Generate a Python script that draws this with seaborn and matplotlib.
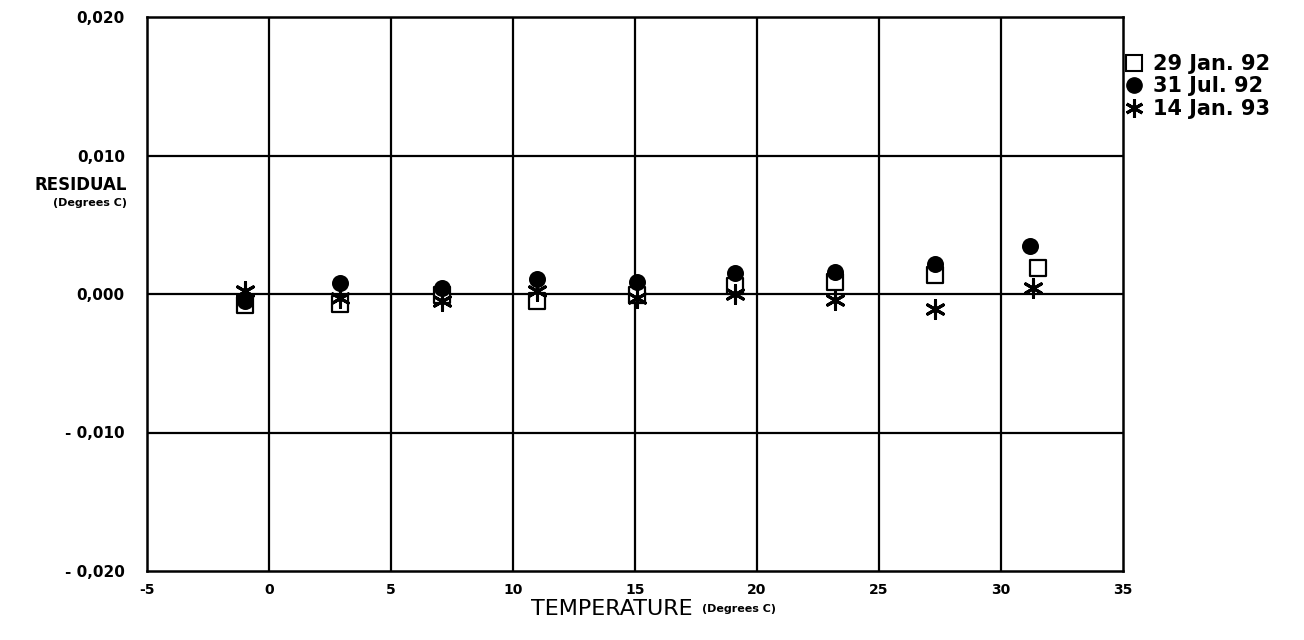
import matplotlib
matplotlib.use("Agg")
import matplotlib.pyplot as plt
import seaborn as sns
import pandas as pd
from matplotlib.lines import Line2D

# ---- data ----
temps_jan92 = [-1.0, 2.9, 7.1, 11.0, 15.1, 19.1, 23.2, 27.3, 31.5]
resid_jan92 = [-0.0008, -0.0007, -0.0001, -0.0005, -0.0001, 0.0006, 0.0009, 0.0014, 0.0019]
temps_jul92 = [-1.0, 2.9, 7.1, 11.0, 15.1, 19.1, 23.2, 27.3, 31.2]
resid_jul92 = [-0.0005, 0.0008, 0.0004, 0.0011, 0.0009, 0.0015, 0.0016, 0.0022, 0.0035]
temps_jan93 = [-1.0, 2.9, 7.1, 11.0, 15.1, 19.1, 23.2, 27.3, 31.3]
resid_jan93 = [0.0002, -0.0003, -0.0005, 0.0002, -0.0003, 0.0000, -0.0004, -0.0011, 0.0004]
series_labels = ["29 Jan. 92", "31 Jul. 92", "14 Jan. 93"]
xticks = [-5, 0, 5, 10, 15, 20, 25, 30, 35]
yticks = [-0.02, -0.01, 0.0, 0.01, 0.02]
ytick_labels = ["- 0,020", "- 0,010", "0,000", "0,010", "0,020"]

sns.set_theme(style="white")
plt.rcParams['font.family'] = ['DejaVu Sans']
plt.rcParams['text.color'] = 'black'
plt.rcParams['xtick.color'] = 'black'
plt.rcParams['ytick.color'] = 'black'
plt.rcParams['axes.labelcolor'] = 'black'

fig = plt.figure(figsize=(13.04, 6.4), dpi=100)
ax = fig.add_axes([147/1304, 1-571/640, (1123-147)/1304, (571-17)/640])

df1 = pd.DataFrame({"t": temps_jan92, "r": resid_jan92})
df2 = pd.DataFrame({"t": temps_jul92, "r": resid_jul92})
df3 = pd.DataFrame({"t": temps_jan93, "r": resid_jan93})

sns.scatterplot(data=df1, x="t", y="r", ax=ax, marker="s", s=140,
                facecolor="white", edgecolor="black", linewidth=1.6, zorder=3)
sns.scatterplot(data=df2, x="t", y="r", ax=ax, marker="o", s=150,
                color="black", edgecolor="black", linewidth=0, zorder=4)
sns.scatterplot(data=df3, x="t", y="r", ax=ax, marker=(6, 2, 0), s=170,
                color="black", linewidth=2.2, zorder=5)

ax.set_xlim(-5, 35)
ax.set_ylim(-0.02, 0.02)
ax.set_xticks(xticks)
ax.set_xticklabels([str(v) for v in xticks], fontsize=10, fontweight="bold")
ax.set_yticks(yticks)
ax.set_yticklabels(ytick_labels, fontsize=11, fontweight="bold")
ax.tick_params(axis="both", length=0, colors="black")
ax.tick_params(axis="y", pad=16)
ax.tick_params(axis="x", pad=9)

for v in [0, 5, 10, 15, 20, 25, 30]:
    ax.axvline(v, color="black", linewidth=1.6, zorder=1)
for v in [-0.01, 0.0, 0.01]:
    ax.axhline(v, color="black", linewidth=1.6, zorder=1)
for sp in ax.spines.values():
    sp.set_visible(True)
    sp.set_color("black")
    sp.set_linewidth(1.8)
ax.set_xlabel("")
ax.set_ylabel("")

# axis titles
fig.text(127/1304, 1-185/640, "RESIDUAL", ha="right", va="center",
         fontsize=12, fontweight="bold")
fig.text(127/1304, 1-203/640, "(Degrees C)", ha="right", va="center",
         fontsize=8, fontweight="bold")
fig.text(693/1304, 1-609/640, "TEMPERATURE", ha="right", va="center",
         fontsize=16, fontweight="normal")
fig.text(702/1304, 1-609/640, "(Degrees C)", ha="left", va="center",
         fontsize=8, fontweight="bold")

handles = [
    Line2D([], [], marker="s", linestyle="", markersize=11, markerfacecolor="white",
           markeredgecolor="black", markeredgewidth=1.5),
    Line2D([], [], marker="o", linestyle="", markersize=11, markerfacecolor="black",
           markeredgecolor="black"),
    Line2D([], [], marker=(6, 2, 0), linestyle="", markersize=13, color="black",
           markeredgewidth=2.2),
]
leg = fig.legend(handles, series_labels, loc="upper left",
                 bbox_to_anchor=(1124/1304, 1-54/640), frameon=False,
                 prop={"size": 15, "weight": "bold"}, handletextpad=0.4,
                 labelspacing=0.12, handlelength=1.0, borderpad=0,
                 borderaxespad=0)

fig.savefig("out.png", dpi=100)
